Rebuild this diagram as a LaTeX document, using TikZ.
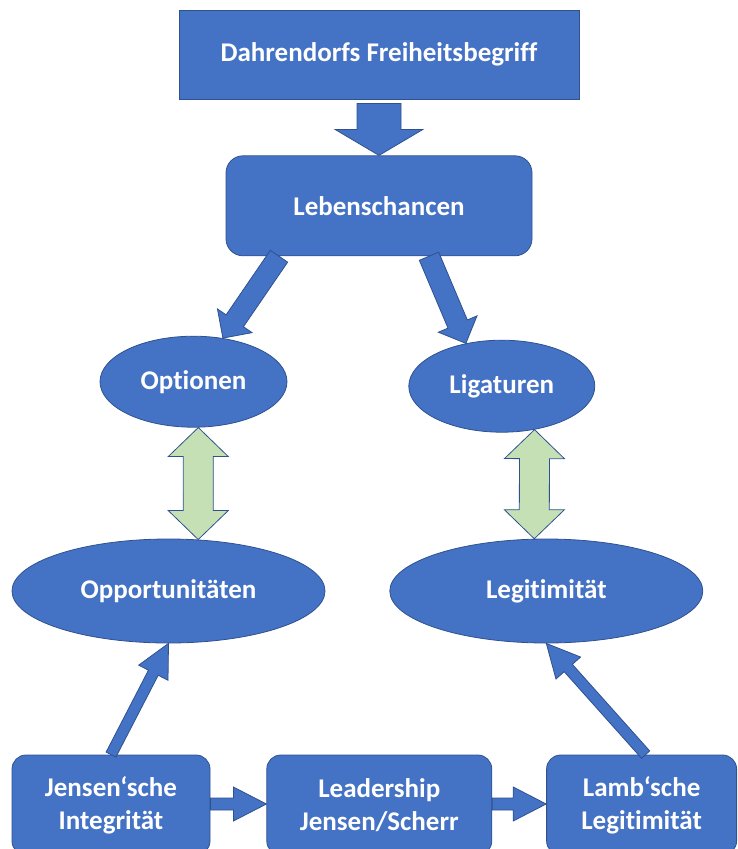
\documentclass[tikz,border=0pt]{standalone}
\usepackage{fontspec}
\setmainfont{Carlito}[RawFeature={-liga;-clig;-calt;-dlig}]
\usepackage{tikz}
\usetikzlibrary{positioning,shapes.geometric,calc}
\definecolor{fillc}{HTML}{4472C4}
\definecolor{edgec}{HTML}{2F528F}
\definecolor{greenc}{HTML}{C5E0B4}

\begin{document}
\begin{tikzpicture}[x=1pt, y=-1pt, font=\bfseries\fontsize{27}{33}\selectfont,
    sq/.style = {draw=edgec, fill=fillc, text=white, line width=0.8pt, inner sep=0pt, align=center},
    rnd/.style = {sq, rounded corners=#1},
    oval/.style = {sq, ellipse},
    blk/.style args = {#1/#2/#3}{draw=edgec, fill=fillc, line width=0.8pt,
        to path={($(\tikztostart)!#1!90:(\tikztotarget)$)
            -- ($(\tikztotarget)!#3!(\tikztostart)!#1!-90:(\tikztostart)$)
            -- ($(\tikztotarget)!#3!(\tikztostart)!#2!-90:(\tikztostart)$)
            -- (\tikztotarget)
            -- ($(\tikztotarget)!#3!(\tikztostart)!#2!90:(\tikztostart)$)
            -- ($(\tikztotarget)!#3!(\tikztostart)!#1!90:(\tikztostart)$)
            -- ($(\tikztostart)!#1!-90:(\tikztotarget)$) -- cycle}},
    dbl/.style args = {#1/#2/#3}{draw=edgec, fill=greenc, line width=0.8pt,
        to path={(\tikztostart)
            -- ($(\tikztostart)!#3!(\tikztotarget)!#2!90:(\tikztotarget)$)
            -- ($(\tikztostart)!#3!(\tikztotarget)!#1!90:(\tikztotarget)$)
            -- ($(\tikztotarget)!#3!(\tikztostart)!#1!-90:(\tikztostart)$)
            -- ($(\tikztotarget)!#3!(\tikztostart)!#2!-90:(\tikztostart)$)
            -- (\tikztotarget)
            -- ($(\tikztotarget)!#3!(\tikztostart)!#2!90:(\tikztostart)$)
            -- ($(\tikztotarget)!#3!(\tikztostart)!#1!90:(\tikztostart)$)
            -- ($(\tikztostart)!#3!(\tikztotarget)!#1!-90:(\tikztotarget)$)
            -- ($(\tikztostart)!#3!(\tikztotarget)!#2!-90:(\tikztotarget)$)
            -- cycle}}]
    \useasboundingbox (0,0) rectangle (737,849);
    \node[sq, minimum width=400pt, minimum height=89pt] (dahr) at (379,54.5) {Dahrendorfs Freiheitsbegriff};
    \node[rnd=17pt, minimum width=306pt, minimum height=100pt] (leben) [below=56pt of dahr] {Lebenschancen};
    \node[oval, minimum width=313pt, minimum height=104pt] (opp) at (168.5,591) {Opportunitäten};
    \node[oval, minimum width=313pt, minimum height=104pt] (legi) [right=64pt of opp] {Legitimität};
    \node[oval, minimum width=187pt, minimum height=91pt] (opt) [above=111pt of opp, xshift=25pt] {Optionen};
    \node[oval, minimum width=186pt, minimum height=92pt] (lig) [above=106pt of legi, xshift=-44.5pt] {Ligaturen};
    \node[rnd=14pt, minimum width=198pt, minimum height=100pt] (jen) at (111,805) {Jensen‘sche\\Integrität};
    \node[rnd=14pt, minimum width=225pt, minimum height=100pt] (lead) [right=56pt of jen] {Leadership\\Jensen/Scherr};
    \node[rnd=14pt, minimum width=190pt, minimum height=100pt] (lamb) [right=54pt of lead] {Lamb‘sche\\Legitimität};
    \draw[blk=22pt/44pt/26pt] ([yshift=-4pt]dahr.south) to (leben.north);
    \draw[blk=10.5pt/21pt/21pt] ([xshift=-100pt]leben.south) to (opt.56);
    \draw[blk=10.5pt/21pt/21pt] ([xshift=50pt]leben.south) to (lig.130);
    \draw[dbl=15pt/30pt/29pt] (opt.-84.4) to (opp.60);
    \draw[dbl=15pt/30pt/29pt] (lig.-53.5) to (legi.103.5);
    \draw[blk=5.5pt/16.5pt/33pt] (jen.north) to (opp.south);
    \draw[blk=5.5pt/16.5pt/33pt] ([xshift=4pt]lamb.north) to (legi.south);
    \draw[blk=6pt/17pt/33pt] ([yshift=1pt]jen.east) to ([yshift=1pt]lead.west);
    \draw[blk=6pt/17pt/33pt] ([yshift=1pt]lead.east) to ([yshift=1pt]lamb.west);
\end{tikzpicture}
\end{document}
